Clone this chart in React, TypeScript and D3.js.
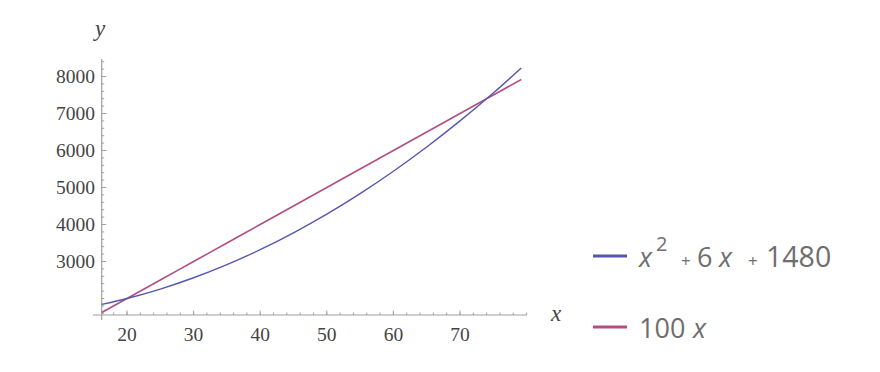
import React from "react";
import * as d3 from "d3";

const xTicks = [20, 30, 40, 50, 60, 70];
const yTicks = [3000, 4000, 5000, 6000, 7000, 8000];
const xSamples = [16.2, 20, 25, 30, 35, 40, 45, 50, 55, 60, 65, 70, 75, 79.2];
const quadValues = [1840, 2000, 2255, 2560, 2915, 3320, 3775, 4280, 4835, 5440, 6095, 6800, 7555, 8228];
const linValues = [1620, 2000, 2500, 3000, 3500, 4000, 4500, 5000, 5500, 6000, 6500, 7000, 7500, 7920];
const xMinorTicks = d3.range(18, 81, 2);
const yMinorTicks = d3.range(1600, 8500, 200);
const legendColors = ["#5656b0", "#b24f80"];

const W = 880;
const H = 372;

export default function App() {
  const x = d3.scaleLinear().domain([20, 70]).range([127, 460]);
  const y = d3.scaleLinear().domain([3000, 8000]).range([261.5, 76.5]);
  const xAxisY = 315;
  const yAxisX = x(16.2);
  const xAxisEnd = x(80);
  const yAxisTop = y(8470);

  const line = d3
    .line<number>()
    .x((_, i) => x(xSamples[i]))
    .y((d) => y(d))
    .curve(d3.curveMonotoneX);

  const serif = "'Liberation Serif', 'DejaVu Serif', serif";
  const sans = "'Open Sans', 'Noto Sans', sans-serif";
  const axisColor = "#a0a0a0";
  const labelColor = "#444";
  const legendText = "#6e6e6e";

  return (
    <svg
      width={W}
      height={H}
      style={{ position: "absolute", left: 0, top: 0, background: "#fff" }}
    >
      {/* axes */}
      <line x1={93} x2={xAxisEnd} y1={xAxisY} y2={xAxisY} stroke={axisColor} strokeWidth={1.2} />
      <line x1={yAxisX} x2={yAxisX} y1={yAxisTop} y2={320} stroke={axisColor} strokeWidth={1.2} />

      {/* x ticks */}
      {xMinorTicks.map((t) => (
        <line key={"xm" + t} x1={x(t)} x2={x(t)} y1={xAxisY} y2={xAxisY - 2.5} stroke={axisColor} strokeWidth={1} />
      ))}
      {xTicks.map((t) => (
        <g key={"x" + t}>
          <line x1={x(t)} x2={x(t)} y1={xAxisY} y2={xAxisY - 4.5} stroke={axisColor} strokeWidth={1} />
          <text x={x(t)} y={341} textAnchor="middle" fontFamily={serif} fontSize={19.5} fill={labelColor}>
            {t}
          </text>
        </g>
      ))}

      {/* y ticks */}
      {yMinorTicks.map((t) => (
        <line key={"ym" + t} x1={yAxisX} x2={yAxisX + 2.5} y1={y(t)} y2={y(t)} stroke={axisColor} strokeWidth={1} />
      ))}
      {yTicks.map((t) => (
        <g key={"y" + t}>
          <line x1={yAxisX} x2={yAxisX + 4.5} y1={y(t)} y2={y(t)} stroke={axisColor} strokeWidth={1} />
          <text x={95} y={y(t) + 6.5} textAnchor="end" fontFamily={serif} fontSize={19.5} fill={labelColor}>
            {t}
          </text>
        </g>
      ))}

      {/* axis labels */}
      <text x={100} y={36} textAnchor="middle" fontFamily={serif} fontStyle="italic" fontSize={23} fill={labelColor}>
        y
      </text>
      <text x={556} y={321} textAnchor="middle" fontFamily={serif} fontStyle="italic" fontSize={23} fill={labelColor}>
        x
      </text>

      {/* curves */}
      <path d={line(linValues) || ""} fill="none" stroke={legendColors[1]} strokeWidth={1.6} />
      <path d={line(quadValues) || ""} fill="none" stroke={legendColors[0]} strokeWidth={1.4} />

      {/* legend */}
      <line x1={593} x2={627} y1={256} y2={256} stroke={legendColors[0]} strokeWidth={3.2} />
      <text y={267} fontFamily={sans} fontSize={27} fill={legendText}>
        <tspan x={639} fontStyle="italic">x</tspan>
        <tspan x={656} y={251} fontSize={20}>2</tspan>
        <tspan x={681} y={267} fontSize={17}>+</tspan>
        <tspan x={697}>6</tspan>
        <tspan x={719} fontStyle="italic">x</tspan>
        <tspan x={748} fontSize={17}>+</tspan>
        <tspan x={766} fontSize={28.5}>1480</tspan>
      </text>
      <line x1={593} x2={627} y1={327} y2={327} stroke={legendColors[1]} strokeWidth={3.2} />
      <text y={338} fontFamily={sans} fontSize={27} fill={legendText}>
        <tspan x={639}>100</tspan>
        <tspan x={693} fontStyle="italic">x</tspan>
      </text>
    </svg>
  );
}
